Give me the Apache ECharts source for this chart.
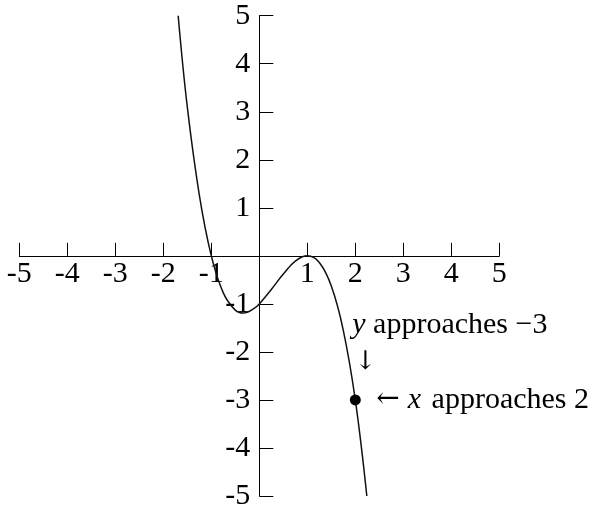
<!DOCTYPE html>
<html>
<head>
<meta charset="utf-8">
<script src="https://cdn.jsdelivr.net/npm/echarts@6/dist/echarts.min.js"></script>
<style>
  html, body { margin: 0; padding: 0; background: #fff; }
  #main { width: 591px; height: 506px; }
</style>
</head>
<body>
<div id="main"></div>
<script>
// curve readings (x, y)
var curveX = [-1.69, -1.5, -1.25, -1.0, -0.75, -0.5, -0.33, -0.1, 0, 0.25, 0.5, 0.75, 1.0, 1.25, 1.5, 1.75, 2.0, 2.24];
var curveY = [5.0, 3.1, 1.27, 0, -0.77, -1.13, -1.19, -1.09, -1.0, -0.70, -0.38, -0.11, 0, -0.14, -0.63, -1.55, -3.0, -5.0];
// highlighted point
var pointXY = [2, -3];
// axis range / ticks
var axisMin = -5, axisMax = 5, axisStep = 1;
var hiddenTickLabel = 0;

var serif = "'Liberation Serif', 'DejaVu Serif', serif";
var arrowFont = "'DejaVu Serif', serif";
var fs = 30;

var gridBox = { left: 19.3, right: 91.7, top: 15.7, bottom: 10 };

function chart() {
    var dom = document.getElementById("main");
    var myChart = echarts.init(dom);

    var curveData = curveX.map(function (x, i) { return [x, curveY[i]]; });

    function labelFmt(v) {
        return v === hiddenTickLabel ? '' : String(v);
    }

    // axes sit in the middle of the plot: shift them inward from the edges
    var gw = 591 - gridBox.left - gridBox.right;
    var gh = 506 - gridBox.top - gridBox.bottom;
    var xOff = -gh * (0 - axisMin) / (axisMax - axisMin);
    var yOff = -gw * (0 - axisMin) / (axisMax - axisMin);

    var option = {
        animation: false,
        grid: {
            left: gridBox.left, right: gridBox.right, top: gridBox.top, bottom: gridBox.bottom,
            outerBoundsMode: 'none'
        },
        xAxis: {
            type: 'value',
            position: 'bottom',
            offset: xOff,
            min: axisMin, max: axisMax, interval: axisStep,
            splitLine: { show: false },
            axisLine: { onZero: false, lineStyle: { color: '#000', width: 1 } },
            axisTick: { inside: true, length: 13, lineStyle: { color: '#000', width: 1 } },
            axisLabel: {
                margin: 3, formatter: labelFmt,
                color: '#000', fontFamily: serif, fontSize: fs
            }
        },
        yAxis: {
            type: 'value',
            position: 'left',
            offset: yOff,
            min: axisMin, max: axisMax, interval: axisStep,
            splitLine: { show: false },
            axisLine: { onZero: false, lineStyle: { color: '#000', width: 1 } },
            axisTick: { inside: true, length: 14, lineStyle: { color: '#000', width: 1 } },
            axisLabel: {
                margin: 9, formatter: labelFmt,
                color: '#000', fontFamily: serif, fontSize: fs
            }
        },
        series: [{
            type: 'line',
            data: curveData,
            smooth: 0.4,
            showSymbol: false,
            lineStyle: { color: '#111', width: 1.5 },
            z: 3
        }, {
            type: 'scatter',
            data: [pointXY],
            symbolSize: 11,
            itemStyle: { color: '#000', opacity: 1 },
            z: 4
        }]
    };
    myChart.setOption(option, true);

    var p = myChart.convertToPixel({ gridIndex: 0 }, pointXY);
    myChart.setOption({
        graphic: [{
            type: 'text',
            x: p[0] - 3, y: p[1] - 60,
            style: {
                text: '{i|y} approaches \u22123',
                fontFamily: serif, fontSize: fs, fill: '#000',
                verticalAlign: 'bottom',
                rich: { i: { fontStyle: 'italic', fontFamily: serif, fontSize: fs } }
            }
        }, {
            type: 'text',
            x: p[0] + 10, y: p[1] - 38,
            style: {
                text: '\u2193',
                fontFamily: arrowFont, fontSize: 26, fill: '#000',
                align: 'center', verticalAlign: 'middle'
            }
        }, {
            type: 'text',
            x: p[0] + 21, y: p[1],
            style: {
                text: '{a|\u2190}{i|x} approaches 2',
                fontFamily: serif, fontSize: fs, fill: '#000',
                verticalAlign: 'middle',
                rich: {
                    a: { fontFamily: arrowFont, fontSize: 28, padding: [0, 8, 0, 0] },
                    i: { fontStyle: 'italic', fontFamily: serif, fontSize: fs, padding: [0, 3, 0, 0] }
                }
            }
        }]
    });
}
chart();
</script>
</body>
</html>
